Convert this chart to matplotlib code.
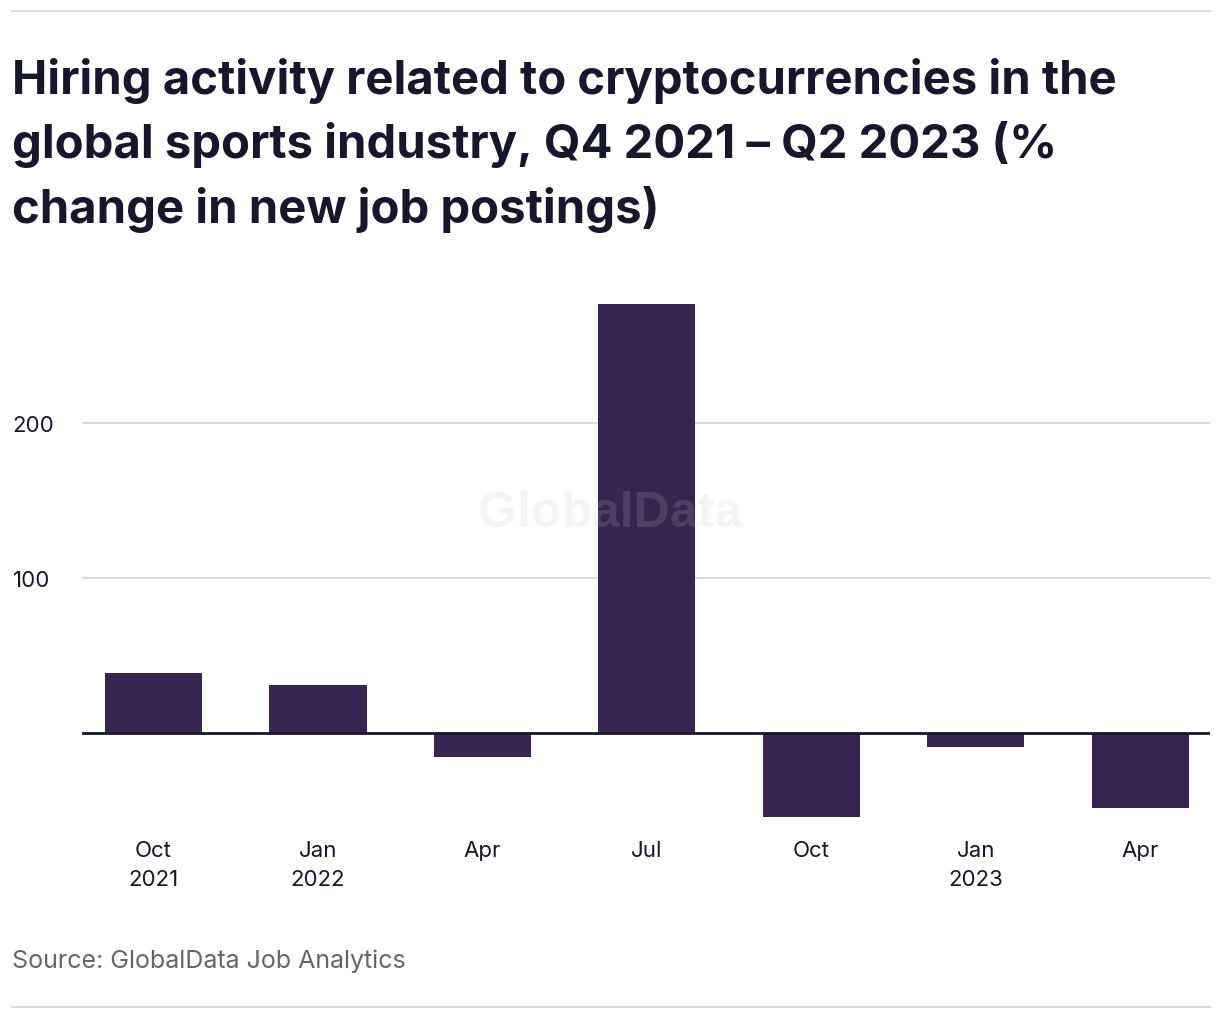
import matplotlib
matplotlib.use("Agg")
import matplotlib.pyplot as plt
from matplotlib.lines import Line2D

months = ["Oct", "Jan", "Apr", "Jul", "Oct", "Jan", "Apr"]
years = ["2021", "2022", "", "", "", "2023", ""]
values = [38.5, 31.3, -15.6, 277.0, -54.3, -9.2, -48.5]
yticks = [100, 200]

BAR = "#36254f"
DARK = "#17172b"
plt.rcParams['font.family'] = ['Inter', 'DejaVu Sans']

W, H = 1220, 1020
fig = plt.figure(figsize=(W / 100, H / 100), dpi=100)

def fx(px):
    return px / W

def fy(py):
    return 1 - py / H

ax_left, ax_right, ax_top, ax_bot = 82, 1210, 300, 824
ax = fig.add_axes([fx(ax_left), fy(ax_bot), fx(ax_right - ax_left), (ax_bot - ax_top) / H])

x = list(range(len(values)))
ax.bar(x, values, width=0.59, color=BAR, zorder=3)
ax.set_xlim(-0.4347, 6.423)
ax.set_ylim(-58, 280)
ax.set_yticks(yticks)
ax.set_yticklabels([str(v) for v in yticks])
ax.grid(axis='y', color='#d9d9d9', linewidth=1.4, zorder=0)
ax.axhline(0, color=DARK, linewidth=2.0, zorder=4)
for s in ax.spines.values():
    s.set_visible(False)
ax.tick_params(axis='both', length=0)
ax.tick_params(axis='y', labelsize=16, labelcolor=DARK)
for lab in ax.get_yticklabels():
    lab.set_horizontalalignment('left')
ax.yaxis.set_tick_params(pad=50)
ax.set_xticks(x)
ax.set_xticklabels([m + ("\n" + y if y else "") for m, y in zip(months, years)],
                   fontsize=16, color=DARK, va='top', linespacing=1.6)
ax.tick_params(axis='x', pad=12)

# watermark (semi-transparent, over bars)
ax.text(fx(610), fy(514), "GlobalData", fontsize=36, fontweight='bold',
        family=['Liberation Sans', 'DejaVu Sans'],
        color='#c6c6c6', alpha=0.17, ha='center', va='center', zorder=6,
        transform=fig.transFigure)

# title
fig.text(fx(12), fy(58), "Hiring activity related to cryptocurrencies in the\n"
         "global sports industry, Q4 2021 \u2013 Q2 2023 (%\n"
         "change in new job postings)",
         fontsize=34, fontweight='bold', color=DARK, ha='left', va='top',
         linespacing=1.47)

# source
fig.text(fx(12), fy(961), "Source: GlobalData Job Analytics", fontsize=18,
         color='#666666', ha='left', va='center')

# top & bottom rules
fig.add_artist(Line2D([fx(12), fx(1210)], [fy(12), fy(12)], color='#dddddd', linewidth=1.5))
fig.add_artist(Line2D([fx(12), fx(1210)], [fy(1008), fy(1008)], color='#dddddd', linewidth=1.5))

fig.savefig("out.png", dpi=100)
